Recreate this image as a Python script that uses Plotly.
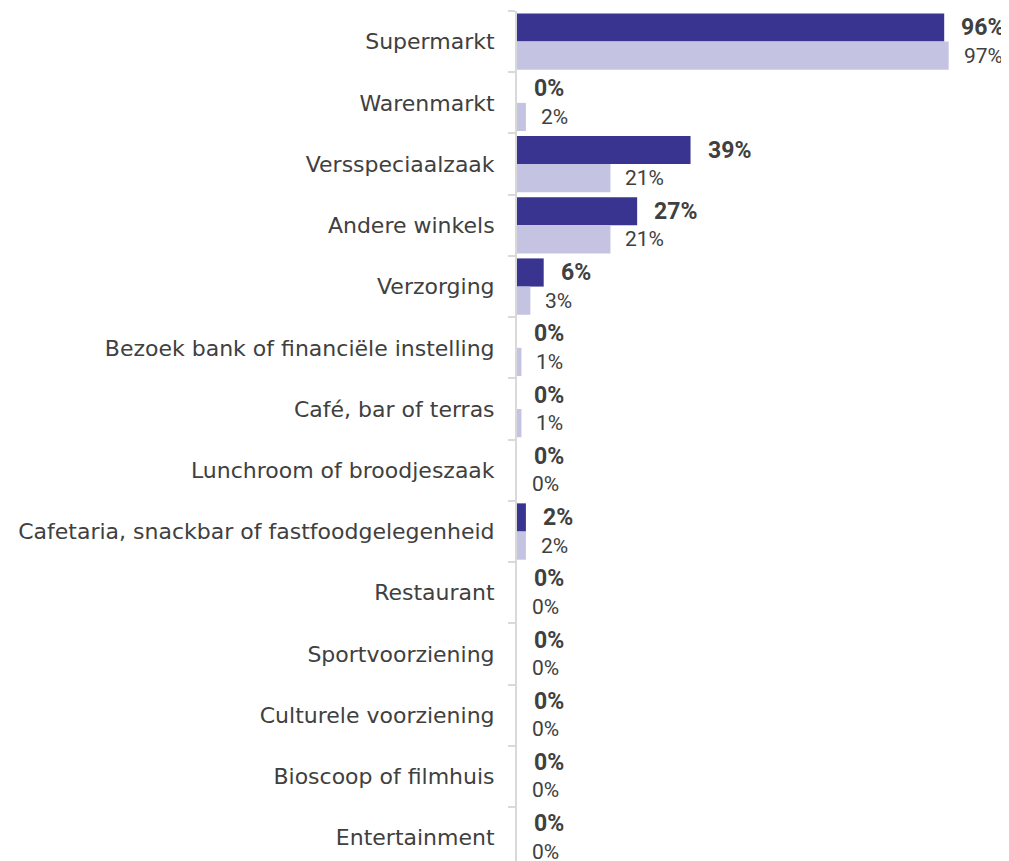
import plotly.graph_objects as go

categories = ["Supermarkt", "Warenmarkt", "Versspeciaalzaak", "Andere winkels", "Verzorging",
              "Bezoek bank of financiële instelling", "Café, bar of terras",
              "Lunchroom of broodjeszaak", "Cafetaria, snackbar of fastfoodgelegenheid",
              "Restaurant", "Sportvoorziening", "Culturele voorziening",
              "Bioscoop of filmhuis", "Entertainment"]
series_dark = [96, 0, 39, 27, 6, 0, 0, 0, 2, 0, 0, 0, 0, 0]
series_light = [97, 2, 21, 21, 3, 1, 1, 0, 2, 0, 0, 0, 0, 0]

DARK = "#39348f"
LIGHT = "#c4c3e1"
TXT = "#404040"
FONT = "DejaVu Sans"
NUMFONT = "Roboto"

fig = go.Figure()
fig.add_trace(go.Bar(y=categories, x=series_dark, orientation="h", marker_color=DARK,
                     marker_line_width=0, name="dark"))
fig.add_trace(go.Bar(y=categories, x=series_light, orientation="h", marker_color=LIGHT,
                     marker_line_width=0, name="light"))

annotations = []
for c, d, l in zip(categories, series_dark, series_light):
    annotations.append(dict(x=d, y=c, xref="x", yref="y", text=f"<b>{d}%</b>", showarrow=False,
                            xanchor="left", yanchor="middle", xshift=15, yshift=14,
                            font=dict(family=NUMFONT, size=23, color=TXT)))
    annotations.append(dict(x=l, y=c, xref="x", yref="y", text=f"{l}%", showarrow=False,
                            xanchor="left", yanchor="middle", xshift=13, yshift=-14,
                            font=dict(family=NUMFONT, size=21, color=TXT)))

fig.update_layout(
    width=1001, height=853,
    margin=dict(l=509, r=0, t=3, b=0),
    barmode="group", bargap=0.08, bargroupgap=0,
    plot_bgcolor="white", paper_bgcolor="white",
    showlegend=False,
    annotations=annotations,
    font=dict(family=FONT, size=22, color=TXT),
)
fig.update_xaxes(range=[0, 110.56], visible=False, showgrid=False, zeroline=False)
fig.update_yaxes(type="category", autorange=False, range=[13.38, -0.5],
                 showline=True, linecolor="#d9d9d9", linewidth=2,
                 ticks="outside", tickson="boundaries", ticklen=7, tickcolor="#d9d9d9", tickwidth=2,
                 showgrid=False, zeroline=False, automargin=False,
                 tickfont=dict(family=FONT, size=22, color=TXT), ticklabelstandoff=16)

fig.write_html("out.html")
